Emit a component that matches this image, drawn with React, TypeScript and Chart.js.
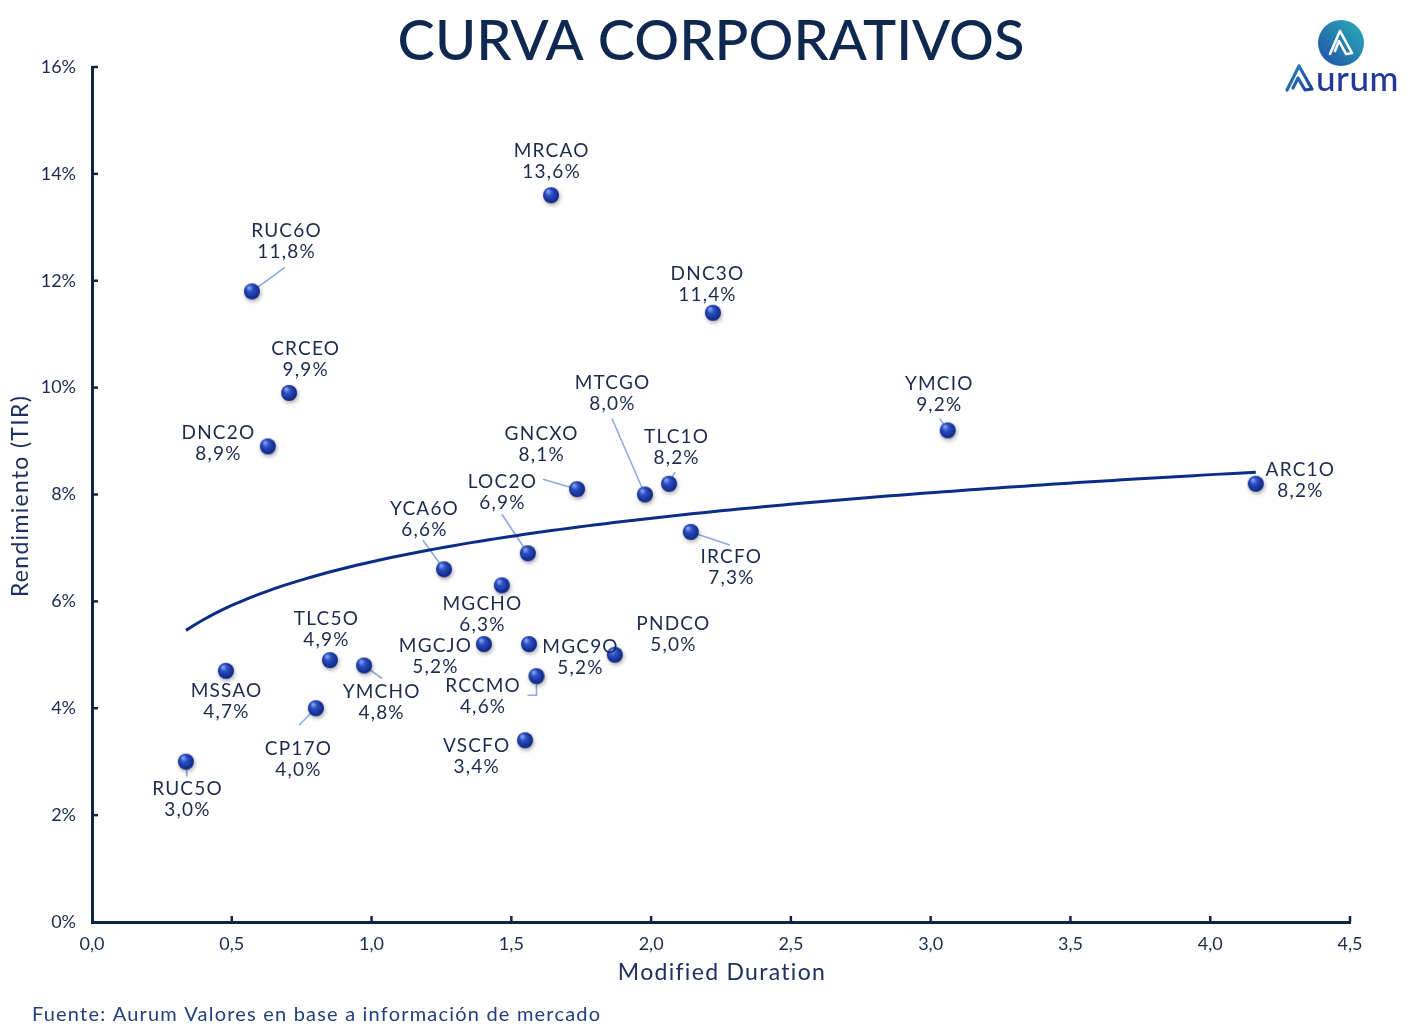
import React, { useEffect, useRef } from "react";
import { Chart, registerables } from "chart.js";

Chart.register(...registerables);

// ---------- data ----------
const bondNames = ["RUC5O", "MSSAO", "RUC6O", "DNC2O", "CRCEO", "CP17O", "TLC5O", "YMCHO", "YCA6O", "MGCJO", "MGCHO", "VSCFO", "LOC2O", "MGC9O", "RCCMO", "MRCAO", "GNCXO", "PNDCO", "MTCGO", "TLC1O", "IRCFO", "DNC3O", "YMCIO", "ARC1O"];
const durations = [0.336, 0.479, 0.572, 0.629, 0.705, 0.801, 0.851, 0.973, 1.259, 1.402, 1.466, 1.549, 1.559, 1.563, 1.59, 1.642, 1.735, 1.87, 1.978, 2.064, 2.142, 2.221, 3.061, 4.163];
const yields = [3.0, 4.7, 11.8, 8.9, 9.9, 4.0, 4.9, 4.8, 6.6, 5.2, 6.3, 3.4, 6.9, 5.2, 4.6, 13.6, 8.1, 5.0, 8.0, 8.2, 7.3, 11.4, 9.2, 8.2];
const xTicks = [0, 0.5, 1, 1.5, 2, 2.5, 3, 3.5, 4, 4.5];
const yTicks = [0, 2, 4, 6, 8, 10, 12, 14, 16];

const titleText = "CURVA CORPORATIVOS";
const xTitle = "Modified Duration";
const yTitle = "Rendimiento (TIR)";
const sourceText = "Fuente: Aurum Valores en base a información de mercado";

// ---------- label placement (pixels relative to the point) ----------
const labelLayout: Record<string, { dx: number; dy: number; leader?: number[][] }> = {
  RUC5O: { dx: 1, dy: 38, leader: [[1, 15]] },
  MSSAO: { dx: 0, dy: 31 },
  RUC6O: { dx: 34, dy: -50, leader: [[33, -24]] },
  DNC2O: { dx: -50, dy: -3 },
  CRCEO: { dx: 16, dy: -34 },
  CP17O: { dx: -18, dy: 51, leader: [[-17, 17]] },
  TLC5O: { dx: -4, dy: -31 },
  YMCHO: { dx: 17, dy: 37, leader: [[18, 13]] },
  YCA6O: { dx: -20, dy: -50, leader: [[-21, -29]] },
  MGCJO: { dx: -49, dy: 12 },
  MGCHO: { dx: -20, dy: 29 },
  VSCFO: { dx: -49, dy: 16 },
  LOC2O: { dx: -26, dy: -61, leader: [[-26, -39]] },
  MGC9O: { dx: 51, dy: 13 },
  RCCMO: { dx: -54, dy: 20, leader: [[0, 19], [-9, 19]] },
  MRCAO: { dx: 0, dy: -34 },
  GNCXO: { dx: -36, dy: -45, leader: [[-34, -10]] },
  PNDCO: { dx: 58, dy: -20 },
  MTCGO: { dx: -33, dy: -101, leader: [[-33, -76]] },
  TLC1O: { dx: 7, dy: -36, leader: [[6, -12]] },
  IRCFO: { dx: 40, dy: 35, leader: [[39, 13]] },
  DNC3O: { dx: -6, dy: -28 },
  YMCIO: { dx: -9, dy: -36, leader: [[-8, -12]] },
  ARC1O: { dx: 44, dy: -3 },
};

const FONT = "Lato, 'Open Sans', sans-serif";
const NAVY = "#0f2548";
const TEXT = "#1b2b4d";

const fmt1 = (v: number) => v.toFixed(1).replace(".", ",");

// logarithmic trend line (least squares of yield on ln(duration))
function logTrend() {
  const L = durations.map((d) => Math.log(d));
  const n = L.length;
  const lm = L.reduce((a, b) => a + b, 0) / n;
  const ym = yields.reduce((a, b) => a + b, 0) / n;
  let sxy = 0, sxx = 0;
  for (let i = 0; i < n; i++) {
    sxy += (L[i] - lm) * (yields[i] - ym);
    sxx += (L[i] - lm) * (L[i] - lm);
  }
  const b = sxy / sxx;
  const a = ym - b * lm;
  const xmin = Math.min(...durations);
  const xmax = Math.max(...durations);
  const pts: { x: number; y: number }[] = [];
  const steps = 120;
  for (let i = 0; i <= steps; i++) {
    const x = xmin + ((xmax - xmin) * i) / steps;
    pts.push({ x, y: a + b * Math.log(x) });
  }
  return pts;
}

function makeSphere() {
  const c = document.createElement("canvas");
  c.width = 28;
  c.height = 28;
  const g = c.getContext("2d")!;
  g.save();
  g.shadowColor = "rgba(0,0,0,0.35)";
  g.shadowBlur = 4;
  g.shadowOffsetX = 1;
  g.shadowOffsetY = 2;
  const grad = g.createRadialGradient(11, 10, 1, 14, 14, 9);
  grad.addColorStop(0, "#7d9bf0");
  grad.addColorStop(0.3, "#2d50c4");
  grad.addColorStop(0.8, "#122d8f");
  grad.addColorStop(1, "#0a1d66");
  g.fillStyle = grad;
  g.beginPath();
  g.arc(14, 14, 8, 0, Math.PI * 2);
  g.fill();
  g.restore();
  return c;
}

const overlayPlugin = {
  id: "overlay",
  beforeDatasetsDraw(chart: any) {
    const ctx = chart.ctx;
    const xs = chart.scales.x;
    const ys = chart.scales.y;
    ctx.save();
    ctx.strokeStyle = "#8eaae0";
    ctx.lineWidth = 1.6;
    bondNames.forEach((name, i) => {
      const lay = labelLayout[name];
      if (!lay || !lay.leader) return;
      const px = xs.getPixelForValue(durations[i]);
      const py = ys.getPixelForValue(yields[i]);
      ctx.beginPath();
      ctx.moveTo(px, py);
      lay.leader.forEach(([dx, dy]) => ctx.lineTo(px + dx, py + dy));
      ctx.stroke();
    });
    ctx.restore();
  },
  afterDatasetsDraw(chart: any) {
    const ctx = chart.ctx;
    const xs = chart.scales.x;
    const ys = chart.scales.y;
    const area = chart.chartArea;
    ctx.save();
    // inward tick marks
    ctx.strokeStyle = NAVY;
    ctx.lineWidth = 2.5;
    yTicks.forEach((v) => {
      const y = ys.getPixelForValue(v);
      if (v === 0) return;
      ctx.beginPath();
      ctx.moveTo(area.left, y);
      ctx.lineTo(area.left + 6, y);
      ctx.stroke();
    });
    xTicks.forEach((v) => {
      if (v === 0) return;
      const x = xs.getPixelForValue(v);
      ctx.beginPath();
      ctx.moveTo(x, area.bottom);
      ctx.lineTo(x, area.bottom - 6);
      ctx.stroke();
    });
    // data labels
    ctx.fillStyle = TEXT;
    ctx.font = `19px ${FONT}`;
    (ctx as any).letterSpacing = "1.2px";
    ctx.textAlign = "center";
    ctx.textBaseline = "middle";
    bondNames.forEach((name, i) => {
      const lay = labelLayout[name] || { dx: 0, dy: -30 };
      const px = xs.getPixelForValue(durations[i]);
      const py = ys.getPixelForValue(yields[i]);
      const cx = px + lay.dx + 0.6;
      const cy = py + lay.dy;
      ctx.fillText(name, cx, cy - 10.5);
      ctx.fillText(fmt1(yields[i]) + "%", cx, cy + 10.5);
    });
    ctx.restore();
  },
  afterDraw(chart: any) {
    const ctx = chart.ctx;
    const area = chart.chartArea;
    ctx.save();
    // title
    ctx.fillStyle = "#0e2850";
    ctx.font = `500 56px ${FONT}`;
    ctx.textAlign = "center";
    ctx.textBaseline = "alphabetic";
    ctx.fillText(titleText, 711, 60);
    // axis titles
    ctx.fillStyle = "#1d3160";
    ctx.font = `23px ${FONT}`;
    (ctx as any).letterSpacing = "1.3px";
    ctx.fillText(xTitle, (area.left + area.right) / 2 + 1, 980);
    ctx.save();
    ctx.translate(28, 496);
    ctx.rotate(-Math.PI / 2);
    ctx.textAlign = "center";
    ctx.fillText(yTitle, 0, 0);
    ctx.restore();
    // source
    ctx.fillStyle = "#22407c";
    ctx.font = `20px ${FONT}`;
    (ctx as any).letterSpacing = "1.2px";
    ctx.textAlign = "left";
    ctx.fillText(sourceText, 32, 1021);
    (ctx as any).letterSpacing = "0px";

    // logo
    const cx = 1341, cy = 43, r = 23;
    const lg = ctx.createLinearGradient(cx + r, cy - r, cx - r, cy + r);
    lg.addColorStop(0, "#2bb0b8");
    lg.addColorStop(1, "#1f4ea8");
    ctx.fillStyle = lg;
    ctx.beginPath();
    ctx.arc(cx, cy, r, 0, Math.PI * 2);
    ctx.fill();
    ctx.strokeStyle = "#ffffff";
    ctx.lineWidth = 2.6;
    ctx.lineJoin = "round";
    ctx.lineCap = "round";
    ctx.beginPath();
    ctx.moveTo(cx - 11, cy + 11);
    ctx.lineTo(cx - 1, cy - 12);
    ctx.lineTo(cx + 11, cy + 10);
    ctx.lineTo(cx + 5, cy + 11);
    ctx.lineTo(cx - 2, cy - 2);
    ctx.lineTo(cx - 6, cy + 8);
    ctx.stroke();
    // logo word
    const ag = ctx.createLinearGradient(1285, 66, 1313, 92);
    ag.addColorStop(0, "#2a8fbf");
    ag.addColorStop(1, "#22399a");
    ctx.strokeStyle = ag;
    ctx.lineWidth = 3.2;
    ctx.beginPath();
    ctx.moveTo(1287, 90);
    ctx.lineTo(1299, 66);
    ctx.lineTo(1312, 89);
    ctx.lineTo(1305, 90);
    ctx.lineTo(1298, 78);
    ctx.lineTo(1293, 88);
    ctx.stroke();
    ctx.fillStyle = "#22399a";
    ctx.font = `500 35px ${FONT}`;
    (ctx as any).letterSpacing = "0.5px";
    ctx.textAlign = "left";
    ctx.fillText("urum", 1316, 91);
    ctx.restore();
  },
};

export default function App() {
  const ref = useRef<HTMLCanvasElement | null>(null);
  useEffect(() => {
    document.body.style.margin = "0";
    const canvas = ref.current!;
    const sphere = makeSphere();
    const chart = new Chart(canvas, {
      type: "scatter",
      data: {
        datasets: [
          {
            type: "scatter",
            label: "Bonos",
            data: durations.map((d, i) => ({ x: d, y: yields[i] })),
            pointStyle: sphere as any,
            pointRadius: 9,
            order: 0,
          },
          {
            type: "line",
            label: "Tendencia",
            data: logTrend(),
            borderColor: "#0c2d86",
            borderWidth: 3,
            pointRadius: 0,
            fill: false,
            tension: 0,
            order: 1,
          } as any,
        ],
      },
      options: {
        responsive: false,
        animation: false,
        devicePixelRatio: 1,
        layout: { padding: { left: 0, top: 67, right: 72, bottom: 0 } },
        plugins: { legend: { display: false }, tooltip: { enabled: false }, title: { display: false } },
        scales: {
          x: {
            type: "linear",
            min: 0,
            max: 4.5,
            afterFit: (s: any) => {
              s.height = 111;
            },
            afterBuildTicks: (s: any) => {
              s.ticks = xTicks.map((v) => ({ value: v }));
            },
            ticks: {
              callback: (v: any) => fmt1(Number(v)),
              color: TEXT,
              font: { family: FONT, size: 18 },
              padding: 11,
              maxRotation: 0,
            },
            grid: { display: false, drawTicks: false },
            border: { display: true, color: NAVY, width: 3 },
          },
          y: {
            type: "linear",
            min: 0,
            max: 16,
            afterFit: (s: any) => {
              s.width = 92;
            },
            afterBuildTicks: (s: any) => {
              s.ticks = yTicks.map((v) => ({ value: v }));
            },
            ticks: {
              callback: (v: any) => `${v}%`,
              color: TEXT,
              font: { family: FONT, size: 18 },
              padding: 16,
            },
            grid: { display: false, drawTicks: false },
            border: { display: true, color: NAVY, width: 3 },
          },
        },
      },
      plugins: [overlayPlugin],
    });
    return () => chart.destroy();
  }, []);
  return (
    <div style={{ position: "absolute", left: 0, top: 0, width: 1422, height: 1033, background: "#fff" }}>
      <canvas ref={ref} width={1422} height={1033} style={{ width: 1422, height: 1033 }} />
    </div>
  );
}
